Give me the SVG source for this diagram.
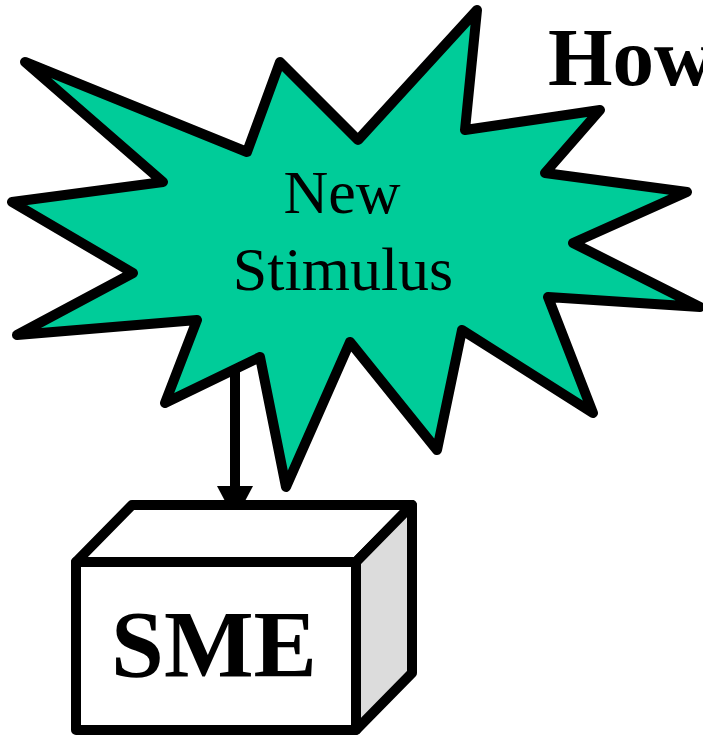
<svg xmlns="http://www.w3.org/2000/svg" width="703" height="737" viewBox="0 0 703 737">
<style>
.ln{stroke:#000;stroke-width:10;stroke-linejoin:round;stroke-linecap:round}
.t{font-family:"Liberation Serif","Times New Roman",serif;fill:#000}
</style>
<defs>
<marker id="ah" markerUnits="userSpaceOnUse" markerWidth="36" markerHeight="36" refX="34" refY="18" orient="auto" viewBox="0 0 36 36">
<path d="M0,0 L34,18 L0,36 Z" fill="#000"/>
</marker>
</defs>
<rect width="703" height="737" fill="#fff"/>
<g id="title"><text class="t" x="548" y="85" font-size="83" font-weight="bold">How</text></g>
<g id="connectors">
<line x1="235" y1="368" x2="235" y2="520" stroke="#000" stroke-width="10" marker-end="url(#ah)"/>
</g>
<g id="stimulus">
<polygon class="ln" fill="#00cc99" points="25,62 247,152 280,62 358,140 477,10 465,130 600,110 545,173 687,192 573,243 700,307 548,297 593,413 462,330 437,450 350,342 286,487 260,357 165,403 197,320 17,335 133,273 12,202 163,182"/>
<text class="t" x="342" y="213" font-size="62" text-anchor="middle">New</text>
<text class="t" x="343" y="290" font-size="62" text-anchor="middle">Stimulus</text>
</g>
<g id="sme">
<polygon class="ln" fill="#fff" points="76,562 132,505 412,505 356,562"/>
<polygon class="ln" fill="#dcdcdc" points="356,562 412,505 412,673 356,730"/>
<rect class="ln" fill="#fff" x="76" y="562" width="280" height="168"/>
<text class="t" x="214" y="677" font-size="95" font-weight="bold" text-anchor="middle">SME</text>
</g>
</svg>
